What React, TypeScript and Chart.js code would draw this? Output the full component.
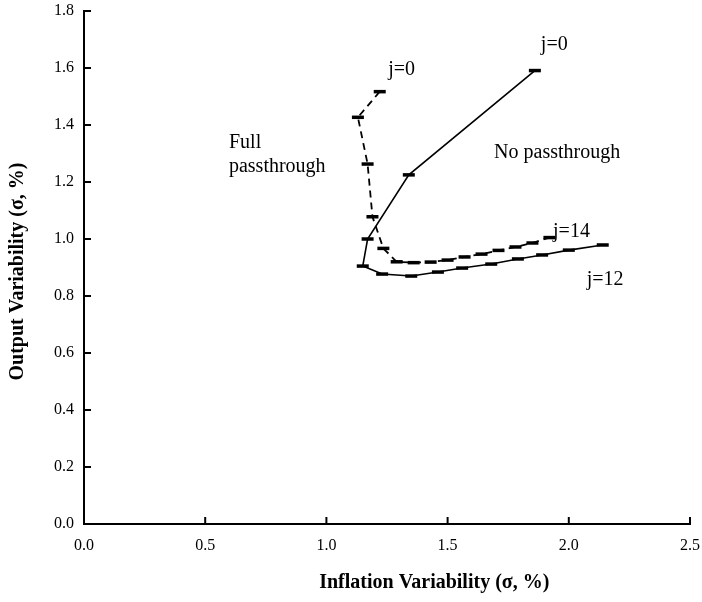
import React, { useEffect, useRef } from "react";
import { Chart, registerables } from "chart.js";

Chart.register(...registerables);

// No passthrough (solid), j = 0 .. 12
const solidX = [1.86, 1.34, 1.17, 1.15, 1.23, 1.35, 1.46, 1.56, 1.68, 1.79, 1.89, 2.0, 2.14];
const solidY = [1.591, 1.225, 1.0, 0.905, 0.877, 0.87, 0.884, 0.898, 0.912, 0.93, 0.944, 0.961, 0.979];

// Full passthrough (dashed), j = 0 .. 14
const dashedX = [1.22, 1.13, 1.17, 1.19, 1.235, 1.29, 1.36, 1.43, 1.5, 1.57, 1.64, 1.71, 1.78, 1.85, 1.92];
const dashedY = [1.517, 1.427, 1.263, 1.078, 0.967, 0.92, 0.917, 0.919, 0.926, 0.937, 0.947, 0.96, 0.972, 0.986, 1.005];

const xTicks = [0, 0.5, 1.0, 1.5, 2.0, 2.5];
const yTicks = [0, 0.2, 0.4, 0.6, 0.8, 1.0, 1.2, 1.4, 1.6, 1.8];

const xTitle = "Inflation Variability (\u03c3, %)";
const yTitle = "Output Variability (\u03c3, %)";

// text annotations: [text, x, y, align]
const notes: [string, number, number, CanvasTextAlign][] = [
  ["j=0", 1.31, 1.593, "center"],
  ["j=0", 1.94, 1.681, "center"],
  ["j=14", 1.935, 1.025, "left"],
  ["j=12", 2.15, 0.856, "center"],
  ["No passthrough", 1.952, 1.302, "center"],
  ["Full", 0.598, 1.337, "left"],
  ["passthrough", 0.598, 1.253, "left"],
];

const SERIF = '"Liberation Serif", "Times New Roman", serif';

const decor = {
  id: "decor",
  afterDraw(chart: any) {
    const { ctx, chartArea, scales } = chart;
    const xs = scales.x;
    const ys = scales.y;
    ctx.save();
    ctx.strokeStyle = "#000";
    ctx.lineWidth = 2;
    for (const v of yTicks) {
      const py = ys.getPixelForValue(v);
      ctx.beginPath();
      ctx.moveTo(chartArea.left, py);
      ctx.lineTo(chartArea.left + 7, py);
      ctx.stroke();
    }
    for (const v of xTicks) {
      const px = xs.getPixelForValue(v);
      ctx.beginPath();
      ctx.moveTo(px, chartArea.bottom);
      ctx.lineTo(px, chartArea.bottom - 7);
      ctx.stroke();
    }
    ctx.fillStyle = "#000";
    ctx.textBaseline = "middle";
    ctx.font = "20px " + SERIF;
    for (const [t, x, y, a] of notes) {
      ctx.textAlign = a;
      ctx.fillText(t, xs.getPixelForValue(x), ys.getPixelForValue(y));
    }
    ctx.font = "bold 20px " + SERIF;
    ctx.textAlign = "center";
    ctx.fillText(xTitle, xs.getPixelForValue(1.445), 583);
    ctx.save();
    ctx.translate(18, (chartArea.top + chartArea.bottom) / 2 + 4);
    ctx.rotate(-Math.PI / 2);
    ctx.fillText(yTitle, 0, 0);
    ctx.restore();
    ctx.restore();
  },
};

export default function App() {
  const ref = useRef<HTMLCanvasElement>(null);
  useEffect(() => {
    if (!ref.current) return;
    const chart = new Chart(ref.current, {
      type: "scatter",
      data: {
        datasets: [
          {
            label: "No passthrough",
            data: solidX.map((x, i) => ({ x, y: solidY[i] })),
            showLine: true,
            borderColor: "#000",
            borderWidth: 1.6,
            pointStyle: "line",
            pointRadius: 6,
            pointBorderWidth: 3.5,
            pointBorderColor: "#000",
            pointBackgroundColor: "#000",
          },
          {
            label: "Full passthrough",
            data: dashedX.map((x, i) => ({ x, y: dashedY[i] })),
            showLine: true,
            borderColor: "#000",
            borderWidth: 1.8,
            borderDash: [7, 5],
            pointStyle: "line",
            pointRadius: 6,
            pointBorderWidth: 3.5,
            pointBorderColor: "#000",
            pointBackgroundColor: "#000",
          },
        ],
      },
      options: {
        animation: false,
        responsive: false,
        maintainAspectRatio: false,
        layout: { padding: { top: 11, right: 12, bottom: 0, left: 0 } },
        plugins: { legend: { display: false }, tooltip: { enabled: false } },
        scales: {
          x: {
            type: "linear",
            min: 0,
            max: 2.5,
            afterBuildTicks: (s: any) => {
              s.ticks = xTicks.map((v) => ({ value: v }));
            },
            afterFit: (s: any) => {
              s.height = 78;
              s.paddingLeft = 0;
              s.paddingRight = 0;
            },
            grid: { display: false, drawTicks: false },
            border: { display: true, color: "#000", width: 2 },
            ticks: {
              color: "#000",
              padding: 12,
              font: { family: SERIF, size: 16 },
              callback: (v: any) => Number(v).toFixed(1),
            },
          },
          y: {
            type: "linear",
            min: 0,
            max: 1.8,
            afterBuildTicks: (s: any) => {
              s.ticks = yTicks.map((v) => ({ value: v }));
            },
            afterFit: (s: any) => {
              s.width = 84;
              s.paddingTop = 0;
              s.paddingBottom = 0;
            },
            grid: { display: false, drawTicks: false },
            border: { display: true, color: "#000", width: 2 },
            ticks: {
              color: "#000",
              padding: 10,
              font: { family: SERIF, size: 16 },
              callback: (v: any) => Number(v).toFixed(1),
            },
          },
        },
      },
      plugins: [decor],
    });
    return () => chart.destroy();
  }, []);
  return (
    <div style={{ position: "fixed", left: 0, top: 0, width: 702, height: 602 }}>
      <canvas ref={ref} width={702} height={602} style={{ display: "block" }} />
    </div>
  );
}
